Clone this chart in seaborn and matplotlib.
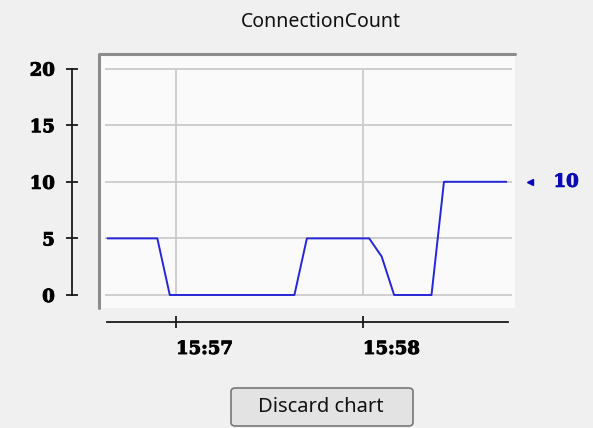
import numpy as np
import pandas as pd
import matplotlib
matplotlib.use('Agg')
import matplotlib.pyplot as plt
import matplotlib.dates as mdates
import matplotlib.patheffects as pe
from matplotlib.patches import Rectangle, FancyBboxPatch
from matplotlib.lines import Line2D
import seaborn as sns

# Data
times = ['15:56:38', '15:56:54', '15:56:58', '15:57:38', '15:57:42',
         '15:58:02', '15:58:06', '15:58:10', '15:58:22', '15:58:26', '15:58:46']
counts = [5, 5, 0, 0, 5, 5, 3.4, 0, 0, 10, 10]
y_ticks = [0, 5, 10, 15, 20]
title = 'ConnectionCount'
button_text = 'Discard chart'

BG = '#f0f0f0'
LINE = '#2626d8'
LABEL_BLUE = '#0a0ab4'
TICK_FONT = 'DejaVu Serif'
UI_FONT = 'Noto Sans'

sns.set_theme(style='white')
plt.rcParams['font.family'] = ['DejaVu Sans']

df = pd.DataFrame({'time': pd.to_datetime('2024-01-01 ' + pd.Series(times)),
                   'count': counts})

W, H = 593, 428
fig = plt.figure(figsize=(W / 100, H / 100), dpi=100, facecolor=BG)


def fx(px):
    return px / W


def fy(py):
    return 1 - py / H


# plot panel (white, sunken border top/left)
fig.add_artist(Rectangle((fx(98), fy(308)), fx(417), (308 - 53) / H,
                         transform=fig.transFigure, facecolor='#fafafa',
                         edgecolor='none', zorder=0))
fig.add_artist(Line2D([fx(99), fx(99), fx(515)], [fy(308), fy(54), fy(54)],
                      transform=fig.transFigure, color='#8c8c8c', lw=2.2, zorder=1))

ax = fig.add_axes([fx(100), fy(308), fx(415), (308 - 55) / H])
ax.patch.set_alpha(0)

t0 = pd.Timestamp('2024-01-01 15:57:00')
sec = pd.Timedelta(seconds=1)


def tn(s):
    return mdates.date2num(t0 + s * sec)


# grid limited to the tick range
xt = [tn(0), tn(60)]
ax.hlines(y_ticks, tn(-22.8), tn(107.8), color='#cbcbcb', lw=1.3, zorder=1)
ax.vlines(xt, y_ticks[0], y_ticks[-1], color='#cbcbcb', lw=1.3, zorder=1)

sns.lineplot(data=df, x='time', y='count', ax=ax, color=LINE, lw=1.4, zorder=3)

ax.set_xlim(tn(-24.4), tn(108.8))
ax.set_ylim(-1.15, 21.2)
ax.set_xticks(xt)
ax.xaxis.set_major_formatter(mdates.DateFormatter('%H:%M'))
ax.set_yticks(y_ticks)
ax.set_xlabel('')
ax.set_ylabel('')

for s in ['top', 'right']:
    ax.spines[s].set_visible(False)
ax.spines['left'].set_position(('outward', 20))
ax.spines['left'].set_bounds(y_ticks[0], y_ticks[-1])
ax.spines['bottom'].set_position(('outward', 10))
ax.spines['bottom'].set_bounds(tn(-22.1), tn(106.5))
for s in ['left', 'bottom']:
    ax.spines[s].set_color('#1a1a1a')
    ax.spines[s].set_linewidth(1.3)

heavy = [pe.withStroke(linewidth=0.7, foreground='#000000')]
ax.tick_params(axis='both', bottom=True, left=True, direction='inout', length=8,
               width=1.3, color='#1a1a1a', labelsize=13, labelcolor='#000000')
ax.tick_params(axis='y', pad=8.5)
ax.tick_params(axis='x', pad=9)
for lab in ax.get_xticklabels() + ax.get_yticklabels():
    lab.set_fontweight('bold')
    lab.set_fontfamily(TICK_FONT)
    lab.set_path_effects(heavy)
for lab in ax.get_xticklabels():
    lab.set_horizontalalignment('left')

# current-value marker on the right
last = df['count'].iloc[-1]
ax.plot([tn(113.6)], [last], marker='<', ms=5, color=LABEL_BLUE, clip_on=False)
ax.annotate(f'{last:g}', xy=(tn(113.6), last), xytext=(17, 0),
            textcoords='offset points', va='center', ha='left', family=TICK_FONT,
            fontsize=13, fontweight='bold', color=LABEL_BLUE, annotation_clip=False,
            path_effects=[pe.withStroke(linewidth=0.7, foreground=LABEL_BLUE)])

fig.text(fx(321), fy(22), title, ha='center', va='center', fontsize=14,
         family=UI_FONT, color='#111111')

# button
fig.add_artist(FancyBboxPatch((fx(231), fy(426)), fx(182), 38 / H,
                              boxstyle='round,pad=0,rounding_size=0.008',
                              transform=fig.transFigure, facecolor='#e3e3e3',
                              edgecolor='#777777', lw=1.2))
fig.text(fx(321), fy(407), button_text, ha='center', va='center',
         fontsize=14.5, family=UI_FONT, color='#111111')

fig.savefig('out.png', dpi=100, facecolor=BG)
